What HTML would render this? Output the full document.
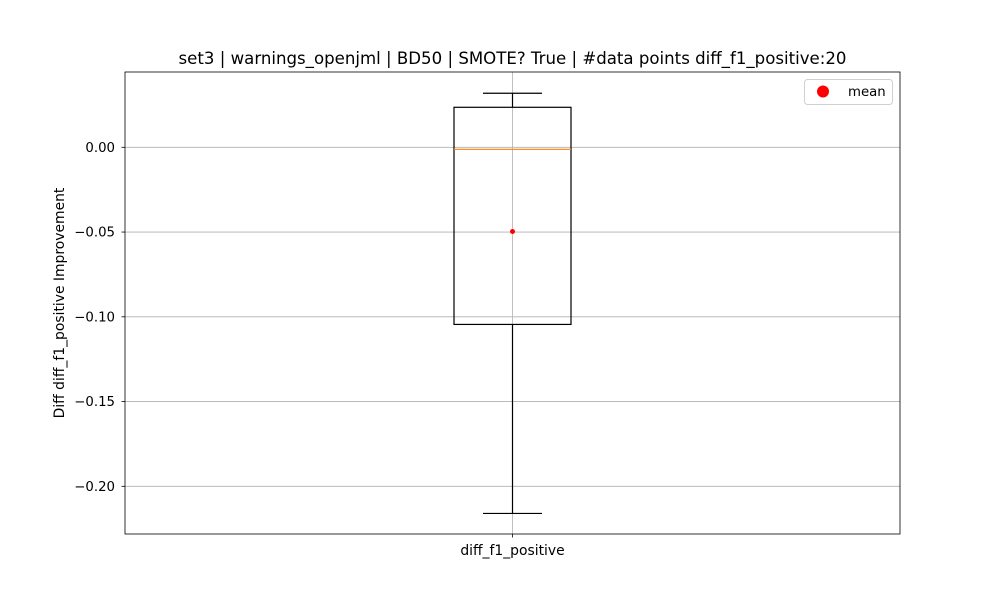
<!DOCTYPE html>
<html><head><meta charset="utf-8"><style>
body{margin:0;background:#fff;font-family:"DejaVu Sans","Liberation Sans",sans-serif}
</style></head><body>
<svg id="chart" width="1000" height="600" xmlns="http://www.w3.org/2000/svg" style="position:absolute;left:0;top:0">
<rect width="1000" height="600" fill="#fff"/>
<g id="grid"></g>
<g id="marks"></g>
<g id="axes" font-family="DejaVu Sans, Liberation Sans, sans-serif"></g>
</svg>
<script>
const categories = ["diff_f1_positive"];
const whiskerLow = [-0.216];
const q1 = [-0.1045];
const medians = [-0.0012];
const q3 = [0.0236];
const whiskerHigh = [0.0319];
const means = [-0.0497];
const yTicks = [0.00, -0.05, -0.10, -0.15, -0.20];
const yTickLabels = ["0.00", "−0.05", "−0.10", "−0.15", "−0.20"];

const L=125,R=900,T=72,B=534;
const y = v => 147.3 - v/0.05*84.75;
const x = i => L + (R-L)*(i+0.5)/categories.length;
const NS="http://www.w3.org/2000/svg";
function mk(tag, attrs, parent){const e=document.createElementNS(NS,tag);for(const k in attrs)e.setAttribute(k,attrs[k]);parent.appendChild(e);return e;}
const grid=document.getElementById('grid'),marks=document.getElementById('marks'),axes=document.getElementById('axes');

yTicks.forEach((t,i)=>{
  const g=mk('line',{x1:L,x2:R,y1:y(t),y2:y(t),stroke:'#b0b0b0','stroke-width':0.8},grid);
  
  
  mk('line',{x1:L-3.5,x2:L,y1:y(t),y2:y(t),stroke:'#000','stroke-width':0.8},axes);
  const tx=mk('text',{x:L-10,y:y(t)+4.5,'text-anchor':'end','font-size':13.3},axes);
  tx.textContent=yTickLabels[i];
  
  
});
categories.forEach((c,i)=>{
  const cx=x(i);
  const vg=mk('line',{x1:cx,x2:cx,y1:T,y2:B,stroke:'#b0b0b0','stroke-width':0.8},grid);
  
  
  const hw=58.5, cw=29.5;
  const w1=mk('line',{x1:cx,x2:cx,y1:y(q1[i]),y2:y(whiskerLow[i]),stroke:'#000','stroke-width':1.2},marks);
  
  
  const w2=mk('line',{x1:cx,x2:cx,y1:y(q3[i]),y2:y(whiskerHigh[i]),stroke:'#000','stroke-width':1.2},marks);
  
  
  const c1=mk('line',{x1:cx-cw,x2:cx+cw,y1:y(whiskerLow[i]),y2:y(whiskerLow[i]),stroke:'#000','stroke-width':1.2},marks);
  
  
  const c2=mk('line',{x1:cx-cw,x2:cx+cw,y1:y(whiskerHigh[i]),y2:y(whiskerHigh[i]),stroke:'#000','stroke-width':1.2},marks);
  
  
  const b=mk('rect',{x:cx-hw,y:y(q3[i]),width:2*hw,height:y(q1[i])-y(q3[i]),fill:'none',stroke:'#000','stroke-width':1.2},marks);
  
  
  const m=mk('line',{x1:cx-hw,x2:cx+hw,y1:y(medians[i]),y2:y(medians[i]),stroke:'#ff7f0e','stroke-width':1.2},marks);
  
  
  const mp=mk('circle',{cx:cx,cy:y(means[i]),r:2.5,fill:'#ff0000'},marks);
  
  
  mk('line',{x1:cx,x2:cx,y1:B,y2:B+3.5,stroke:'#000','stroke-width':0.8},axes);
  const xl=mk('text',{x:cx,y:B+21,'text-anchor':'middle','font-size':13.9},axes);
  xl.textContent=c;
  
  
});
const fr=mk('rect',{x:L,y:T,width:R-L,height:B-T,fill:'none',stroke:'#000','stroke-width':0.8},axes);


</script>
<svg style="position:absolute;left:0;top:0" width="1000" height="600" xmlns="http://www.w3.org/2000/svg" font-family="DejaVu Sans, Liberation Sans, sans-serif">
<text x="512.5" y="64" text-anchor="middle" font-size="16.6">set3 | warnings_openjml | BD50 | SMOTE? True | #data points diff_f1_positive:20</text>
<text transform="translate(64,303) rotate(-90)" text-anchor="middle" font-size="13.9">Diff diff_f1_positive Improvement</text>
<g>
<rect x="804.5" y="79.5" width="88" height="25" rx="3" fill="#fff" stroke="#d0d0d0"/>
<circle cx="823" cy="91.5" r="6" fill="#ff0000"/>
<text x="848" y="96" font-size="13.3">mean</text>
</g>
</svg>
</body></html>
